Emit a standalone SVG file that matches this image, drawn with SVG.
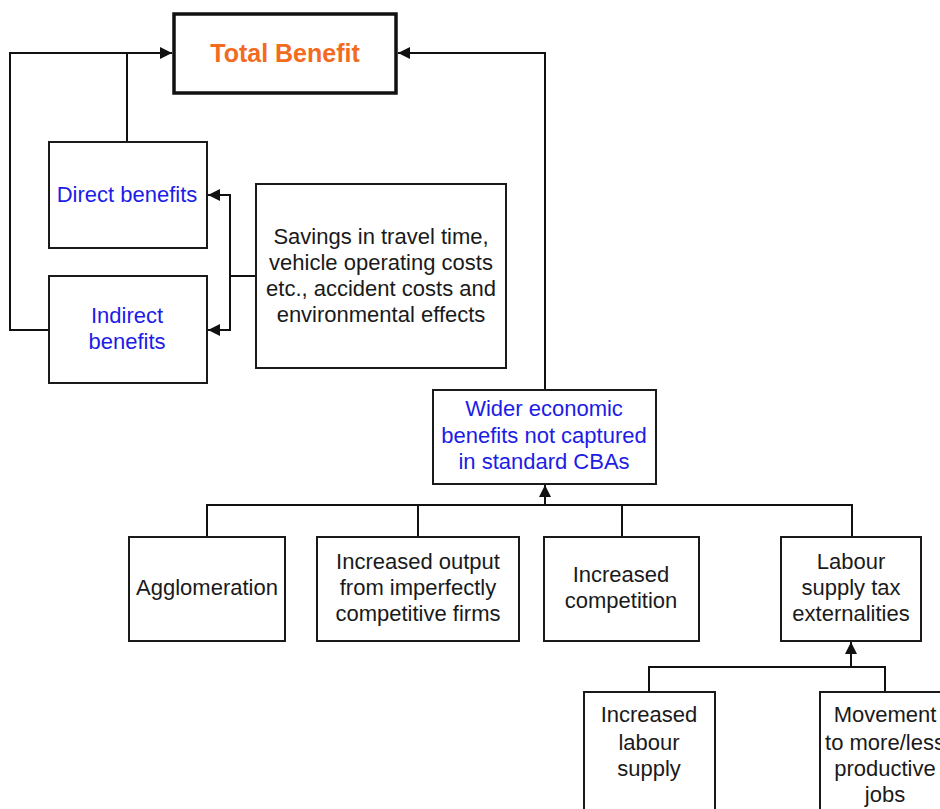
<svg xmlns="http://www.w3.org/2000/svg" width="940" height="809" viewBox="0 0 940 809">
<defs>
<style>
.box{fill:#fff;stroke:#1a1a1a;stroke-width:2}
.main{fill:#fff;stroke:#111;stroke-width:3.5}
.t{font-family:"Liberation Sans",Arial,sans-serif;font-size:22px;fill:#1a1a1a;text-anchor:middle}
.b{fill:#1c1ce6}
.title{font-family:"Liberation Sans",Arial,sans-serif;font-size:25px;font-weight:bold;fill:#f26b1f;text-anchor:middle}
.c{fill:none;stroke:#111;stroke-width:2}
</style>
<marker id="ah" viewBox="0 0 10 10" refX="10" refY="5" markerWidth="12" markerHeight="12" markerUnits="userSpaceOnUse" orient="auto">
<path d="M0,0 L10,5 L0,10 Z" fill="#111"/>
</marker>
</defs>
<rect width="940" height="809" fill="#fff"/>
<g id="connectors">
<polyline class="c" points="49,330 10,330 10,53 172,53" marker-end="url(#ah)"/>
<line class="c" x1="127" y1="142" x2="127" y2="53"/>
<polyline class="c" points="545,390 545,53 398,53" marker-end="url(#ah)"/>
<line class="c" x1="256" y1="276" x2="230" y2="276"/>
<line class="c" x1="230" y1="194" x2="230" y2="330"/>
<line class="c" x1="231" y1="195" x2="208" y2="195" marker-end="url(#ah)"/>
<line class="c" x1="231" y1="330" x2="208" y2="330" marker-end="url(#ah)"/>
<line class="c" x1="207" y1="505" x2="852" y2="505"/>
<line class="c" x1="207" y1="537" x2="207" y2="504"/>
<line class="c" x1="418" y1="537" x2="418" y2="504"/>
<line class="c" x1="622" y1="537" x2="622" y2="504"/>
<line class="c" x1="852" y1="537" x2="852" y2="504"/>
<line class="c" x1="545" y1="506" x2="545" y2="485" marker-end="url(#ah)"/>
<polyline class="c" points="649,692 649,667 885,667 885,692"/>
<line class="c" x1="851" y1="668" x2="851" y2="642" marker-end="url(#ah)"/>
</g>
<g id="total-benefit">
<rect class="main" x="174" y="14" width="222" height="79"/>
<text class="title" x="285" y="62">Total Benefit</text>
</g>
<g id="direct-benefits">
<rect class="box" x="49" y="142" width="158" height="106"/>
<text class="t b" x="127" y="202">Direct benefits</text>
</g>
<g id="indirect-benefits">
<rect class="box" x="49" y="276" width="158" height="107"/>
<text class="t b" x="127" y="323">Indirect</text>
<text class="t b" x="127" y="349">benefits</text>
</g>
<g id="savings">
<rect class="box" x="256" y="184" width="250" height="184"/>
<text class="t" x="381" y="244">Savings in travel time,</text>
<text class="t" x="381" y="270">vehicle operating costs</text>
<text class="t" x="381" y="296">etc., accident costs and</text>
<text class="t" x="381" y="322">environmental effects</text>
</g>
<g id="wider">
<rect class="box" x="433" y="390" width="223" height="94"/>
<text class="t b" x="544" y="416">Wider economic</text>
<text class="t b" x="544" y="443">benefits not captured</text>
<text class="t b" x="544" y="469">in standard CBAs</text>
</g>
<g id="agglomeration">
<rect class="box" x="129" y="537" width="156" height="104"/>
<text class="t" x="207" y="595">Agglomeration</text>
</g>
<g id="increased-output">
<rect class="box" x="317" y="537" width="202" height="104"/>
<text class="t" x="418" y="569">Increased output</text>
<text class="t" x="418" y="595">from imperfectly</text>
<text class="t" x="418" y="621">competitive firms</text>
</g>
<g id="increased-competition">
<rect class="box" x="544" y="537" width="155" height="104"/>
<text class="t" x="621" y="582">Increased</text>
<text class="t" x="621" y="608">competition</text>
</g>
<g id="labour-supply-tax">
<rect class="box" x="781" y="537" width="140" height="104"/>
<text class="t" x="851" y="569">Labour</text>
<text class="t" x="851" y="595">supply tax</text>
<text class="t" x="851" y="621">externalities</text>
</g>
<g id="increased-labour-supply">
<rect class="box" x="584" y="692" width="131" height="130"/>
<text class="t" x="649" y="722">Increased</text>
<text class="t" x="649" y="750">labour</text>
<text class="t" x="649" y="776">supply</text>
</g>
<g id="movement">
<rect class="box" x="820" y="692" width="131" height="130"/>
<text class="t" x="885" y="722">Movement</text>
<text class="t" x="885" y="750">to more/less</text>
<text class="t" x="885" y="776">productive</text>
<text class="t" x="885" y="802">jobs</text>
</g>
</svg>
